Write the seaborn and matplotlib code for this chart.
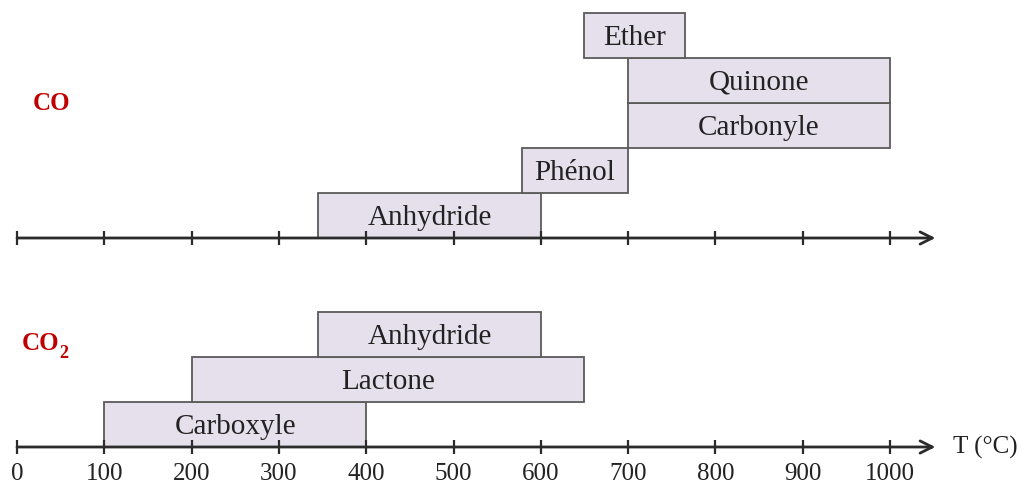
import matplotlib
matplotlib.use("Agg")
import matplotlib.pyplot as plt
import seaborn as sns

# Temperature ranges (°C) of surface-group decomposition
co_groups = ["Anhydride", "Phénol", "Carbonyle", "Quinone", "Ether"]
co_start = [345, 578, 700, 700, 650]
co_end = [600, 700, 1000, 1000, 765]
co_rows = [0, 1, 2, 3, 4]

co2_groups = ["Carboxyle", "Lactone", "Anhydride"]
co2_start = [100, 200, 345]
co2_end = [400, 650, 600]
co2_rows = [0, 1, 2]

tick_values = [0, 100, 200, 300, 400, 500, 600, 700, 800, 900, 1000]
tick_labels = [str(v) for v in tick_values]

sns.set_theme(style="white")
plt.rcParams["font.family"] = ["Liberation Serif", "DejaVu Serif"]

W, H, DPI = 1018, 487, 100
fig = plt.figure(figsize=(W / DPI, H / DPI), dpi=DPI)
ax = fig.add_axes([0, 0, 1, 1])
ax.set_axis_off()

px_per_deg = 0.873
x0_px = 17
ax.set_xlim(-x0_px / px_per_deg, (W - x0_px) / px_per_deg)
row_px = 45.0
ax.set_ylim(-(H - 447) / row_px, 447 / row_px)

co_base = (447 - 238) / row_px
co2_base = 0.0

fill = "#e6e0ec"
edge = "#5a5a5a"
axis_col = "#2b2b2b"
text_col = "#222222"
label_fs = 21


def draw_group(base, names, starts, ends, rows):
    for name, s, e, r in zip(names, starts, ends, rows):
        ax.barh(base + r, e - s, left=s, height=1.0, align="edge",
                color=fill, edgecolor=edge, linewidth=1.3, zorder=2)
        ax.text((s + e) / 2, base + r + 0.5 - 2.5 / row_px, name,
                ha="center", va="center", fontsize=label_fs, color=text_col,
                zorder=3)


def draw_axis(base):
    ax.annotate("", xy=(1052, base), xytext=(0, base),
                arrowprops=dict(arrowstyle="->", color=axis_col, lw=2.0,
                                mutation_scale=22, shrinkA=0, shrinkB=0),
                zorder=4)
    tick_h = 7 / row_px
    ax.vlines(tick_values, base - tick_h, base + tick_h, color=axis_col,
              lw=1.6, zorder=4)


draw_group(co_base, co_groups, co_start, co_end, co_rows)
draw_group(co2_base, co2_groups, co2_start, co2_end, co2_rows)
draw_axis(co_base)
draw_axis(co2_base)

for v, lab in zip(tick_values, tick_labels):
    ax.text(v, -27 / row_px, lab, ha="center", va="center", fontsize=18,
            color=text_col)

ax.text(1072, 0, "T (°C)", ha="left", va="center", fontsize=18, color=text_col)

red = "#c00000"
ax.text(18, (447 - 104) / row_px, "CO", ha="left", va="center", fontsize=18,
        fontweight="bold", color=red)
ax.text(6, (447 - 343) / row_px, "CO", ha="left", va="center", fontsize=18,
        fontweight="bold", color=red)
ax.text(48, (447 - 354) / row_px, "2", ha="left", va="center", fontsize=13,
        fontweight="bold", color=red)

fig.savefig("out.png", dpi=DPI)
